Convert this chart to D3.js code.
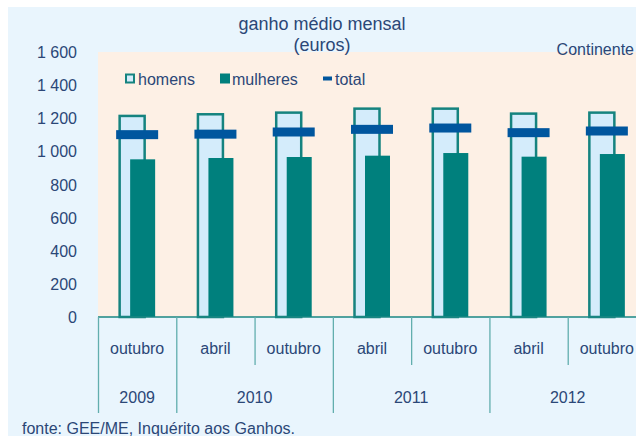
<!DOCTYPE html>
<html>
<head>
<meta charset="utf-8">
<script src="https://cdn.jsdelivr.net/npm/d3@7"></script>
<style>
  html, body { margin: 0; padding: 0; background: #ffffff; }
  svg text { font-family: "Liberation Sans", Arial, sans-serif; fill: #2b4777; }
</style>
</head>
<body>
<div id="chart"></div>
<script>
var meses = ["outubro", "abril", "outubro", "abril", "outubro", "abril", "outubro"];
var anos = ["2009", "2010", "2010", "2011", "2011", "2012", "2012"];
var homens = [1214, 1224, 1234, 1258, 1258, 1228, 1234];
var mulheres = [952, 960, 966, 974, 990, 968, 984];
var total = [1101, 1104, 1117, 1133, 1141, 1113, 1123];
var yTicks = [0, 200, 400, 600, 800, 1000, 1200, 1400, 1600];

var width = 636, height = 436;
var plot = { left: 98, right: 646, top: 52, bottom: 317 };

var data = meses.map(function (m, i) {
  return { i: i, mes: m, ano: anos[i], homens: homens[i], mulheres: mulheres[i], total: total[i] };
});

var svg = d3.select("#chart").append("svg").attr("width", width).attr("height", height);

// background
svg.append("rect").attr("x", 8).attr("y", 7).attr("width", width - 8).attr("height", height - 7)
  .attr("fill", "#e9f5fd");
svg.append("rect").attr("x", plot.left).attr("y", plot.top)
  .attr("width", plot.right - plot.left).attr("height", plot.bottom - plot.top)
  .attr("fill", "#fdf0e5");

var x = d3.scaleBand().domain(data.map(function (d) { return d.i; }))
  .range([plot.left, plot.right]).padding(0);
var y = d3.scaleLinear().domain([0, 1600]).range([plot.bottom, plot.top]);
var bw = x.bandwidth();

var fmt = d3.formatLocale({ decimal: ",", thousands: " ", grouping: [3], currency: ["", ""] }).format(",d");

// y axis labels
var gY = svg.append("g").attr("transform", "translate(" + plot.left + ",0)");
gY.call(d3.axisLeft(y).tickValues(yTicks).tickSize(0).tickPadding(21).tickFormat(fmt));
gY.select(".domain").remove();
gY.selectAll("text").style("font-size", "16px").attr("fill", "#2b4777").attr("dy", "0.35em");

// homens bars (outlined)
svg.selectAll("rect.homens").data(data).enter().append("rect")
  .attr("class", "homens")
  .attr("x", function (d) { return x(d.i) + bw / 2 - 17.5; })
  .attr("y", function (d) { return y(d.homens); })
  .attr("width", 25)
  .attr("height", function (d) { return y(0) - y(d.homens); })
  .attr("fill", "#d4ecfb")
  .attr("stroke", "#15837f")
  .attr("stroke-width", 2.5);

// mulheres bars
svg.selectAll("rect.mulheres").data(data).enter().append("rect")
  .attr("class", "mulheres")
  .attr("x", function (d) { return x(d.i) + bw / 2 - 7; })
  .attr("y", function (d) { return y(d.mulheres); })
  .attr("width", 25)
  .attr("height", function (d) { return y(0) - y(d.mulheres); })
  .attr("fill", "#00807d");

// total markers
svg.selectAll("rect.total").data(data).enter().append("rect")
  .attr("class", "total")
  .attr("x", function (d) { return x(d.i) + bw / 2 - 21; })
  .attr("y", function (d) { return y(d.total) - 4.5; })
  .attr("width", 42)
  .attr("height", 9)
  .attr("fill", "#00569e");

// baseline
svg.append("line").attr("x1", plot.left).attr("x2", width).attr("y1", y(0)).attr("y2", y(0))
  .attr("stroke", "#1a8783").attr("stroke-width", 1.5);

// category dividers
var yearStart = data.filter(function (d, i) { return i === 0 || anos[i - 1] !== d.ano; });
var starts = yearStart.map(function (d) { return d.i; });
data.forEach(function (d) {
  var isYear = starts.indexOf(d.i) >= 0;
  svg.append("line")
    .attr("x1", x(d.i) + 0.5).attr("x2", x(d.i) + 0.5)
    .attr("y1", y(0)).attr("y2", isYear ? 413 : 365)
    .attr("stroke", "#62aeae").attr("stroke-width", 1.3);
});

// month labels
svg.selectAll("text.mes").data(data).enter().append("text")
  .attr("class", "mes")
  .attr("x", function (d) { return x(d.i) + bw / 2; })
  .attr("y", 348)
  .attr("dy", "0.35em")
  .attr("text-anchor", "middle")
  .style("font-size", "16px")
  .text(function (d) { return d.mes; });

// year labels
var years = d3.groups(data, function (d) { return d.ano; });
svg.selectAll("text.ano").data(years).enter().append("text")
  .attr("class", "ano")
  .attr("x", function (g) {
    var first = g[1][0].i, last = g[1][g[1].length - 1].i;
    return (x(first) + x(last) + bw) / 2;
  })
  .attr("y", 397)
  .attr("dy", "0.35em")
  .attr("text-anchor", "middle")
  .style("font-size", "16px")
  .text(function (g) { return g[0]; });

// title
svg.append("text").attr("x", 322).attr("y", 24).attr("dy", "0.35em").attr("text-anchor", "middle")
  .style("font-size", "18px").text("ganho médio mensal");
svg.append("text").attr("x", 322).attr("y", 45).attr("dy", "0.35em").attr("text-anchor", "middle")
  .style("font-size", "18px").text("(euros)");
svg.append("text").attr("x", 634).attr("y", 49).attr("dy", "0.35em").attr("text-anchor", "end")
  .style("font-size", "16px").text("Continente");

// legend
var legend = svg.append("g");
legend.append("rect").attr("x", 126).attr("y", 74.5).attr("width", 8).attr("height", 8)
  .attr("fill", "#d4ecfb").attr("stroke", "#15837f").attr("stroke-width", 2);
legend.append("text").attr("x", 138).attr("y", 79).attr("dy", "0.35em").style("font-size", "16px").text("homens");
legend.append("rect").attr("x", 220).attr("y", 73.5).attr("width", 10).attr("height", 10).attr("fill", "#00807d");
legend.append("text").attr("x", 232).attr("y", 79).attr("dy", "0.35em").style("font-size", "16px").text("mulheres");
legend.append("rect").attr("x", 323).attr("y", 76.5).attr("width", 9).attr("height", 4).attr("fill", "#00569e");
legend.append("text").attr("x", 335).attr("y", 79).attr("dy", "0.35em").style("font-size", "16px").text("total");

// source
svg.append("text").attr("x", 22).attr("y", 428).attr("dy", "0.35em")
  .style("font-size", "16px").text("fonte: GEE/ME, Inquérito aos Ganhos.");
</script>
</body>
</html>
